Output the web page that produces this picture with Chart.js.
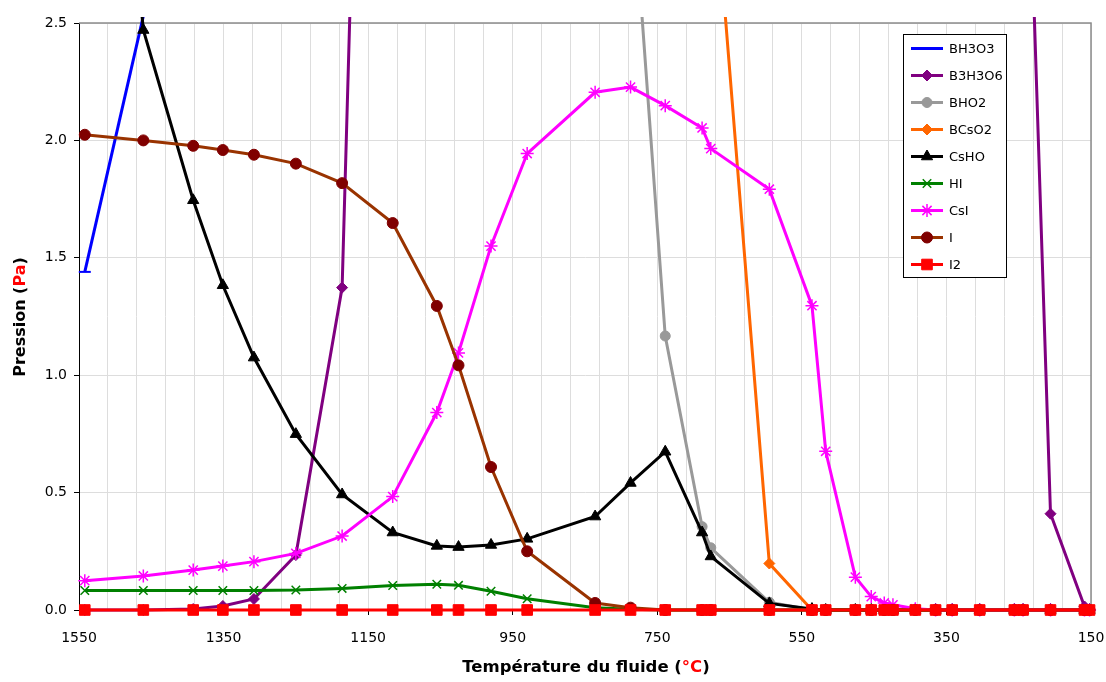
<!DOCTYPE html>
<html>
<head>
<meta charset="utf-8">
<script src="https://cdn.jsdelivr.net/npm/chart.js@4.4.0/dist/chart.umd.min.js"></script>
<style>
  html, body { margin: 0; padding: 0; background: #fff; }
  #wrap { width: 1106px; height: 682px; }
</style>
</head>
<body>
<div id="wrap"><canvas id="chart" width="1106" height="682"></canvas></div>
<script>
// Temperatures of the fluid (°C), shared by every series
const temperatures = [1542, 1461, 1392, 1351, 1308, 1250, 1186, 1116, 1055, 1025, 980, 930, 836, 787, 739, 688, 676,
  595, 536, 517, 476, 454, 436, 424, 393, 365, 342, 304, 256, 244, 206, 159, 152];

// Pressure values (Pa), null = not plotted
const bh3o3 = [1.44, 2.53, null, null, null, null, null, null, null, null, null, null, null, null, null, null, null,
  null, null, null, null, null, null, null, null, null, null, null, null, null, null, null, null];
const b3h3o6 = [0, 0, 0.004, 0.017, 0.047, 0.234, 1.373, 9.0, null, null, null, null, null, null, null, null, null,
  null, null, null, null, null, null, null, null, null, null, null, null, 4.0, 0.41, 0.015, 0];
const bho2 = [null, null, null, null, null, null, null, null, null, null, null, null, null, 3.2, 1.167, 0.355, 0.265,
  0.033, 0, 0, 0, 0, 0, 0, 0, 0, 0, 0, 0, 0, 0, 0, 0];
const bcso2 = [null, null, null, null, null, null, null, null, null, null, null, null, null, null, null, null, 3.3,
  0.198, 0, 0, 0, 0, 0, 0, 0, 0, 0, 0, 0, 0, 0, 0, 0];
const csho = [5.2, 2.47, 1.745, 1.383, 1.075, 0.749, 0.492, 0.33, 0.273, 0.268, 0.277, 0.303, 0.398, 0.541, 0.674, 0.33, 0.228,
  0.028, 0.004, 0, 0, 0, 0, 0, 0, 0, 0, 0, 0, 0, 0, 0, 0];
const hi = [0.083, 0.083, 0.083, 0.083, 0.083, 0.085, 0.092, 0.104, 0.11, 0.105, 0.08, 0.048, 0.01, 0.003, 0, 0, 0,
  0, 0, 0, 0, 0, 0, 0, 0, 0, 0, 0, 0, 0, 0, 0, 0];
const csi = [0.125, 0.145, 0.17, 0.187, 0.206, 0.241, 0.315, 0.483, 0.841, 1.095, 1.55, 1.944, 2.205, 2.227, 2.148, 2.053, 1.965,
  1.792, 1.296, 0.676, 0.14, 0.057, 0.03, 0.022, 0.005, 0, 0, 0, 0, 0, 0, 0, 0];
const iodine = [2.024, 2.0, 1.977, 1.959, 1.939, 1.901, 1.818, 1.648, 1.295, 1.042, 0.609, 0.25, 0.03, 0.01, 0, 0, 0,
  0, 0, 0, 0, 0, 0, 0, 0, 0, 0, 0, 0, 0, 0, 0, 0];
const i2 = [0, 0, 0, 0, 0, 0, 0, 0, 0, 0, 0, 0, 0, 0, 0, 0, 0,
  0, 0, 0, 0, 0, 0, 0, 0, 0, 0, 0, 0, 0, 0, 0, 0];

// Axis ticks
const xTickLabels = [1550, 1350, 1150, 950, 750, 550, 350, 150];
const xGridStep = 40;
const yTickLabels = [0, 0.5, 1.0, 1.5, 2.0, 2.5];

const FONT = "'DejaVu Sans', Verdana, sans-serif";

const toPoints = (values) => temperatures.map((t, i) => ({ x: t, y: values[i] }));

const series = [
  { label: "BH3O3", values: bh3o3, color: "#0000ff", marker: "#0000ff", style: "line", radius: 6, bw: 2 },
  { label: "B3H3O6", values: b3h3o6, color: "#800080", marker: "#800080", style: "rectRot", radius: 5.5, bw: 1 },
  { label: "BHO2", values: bho2, color: "#999999", marker: "#999999", style: "circle", radius: 5, bw: 1 },
  { label: "BCsO2", values: bcso2, color: "#ff6600", marker: "#ff6600", style: "rectRot", radius: 5.5, bw: 1 },
  { label: "CsHO", values: csho, color: "#000000", marker: "#000000", style: "triangle", radius: 6.5, bw: 1 },
  { label: "HI", values: hi, color: "#008000", marker: "#008000", style: "crossRot", radius: 6, bw: 1.5 },
  { label: "CsI", values: csi, color: "#ff00ff", marker: "#ff00ff", style: "star", radius: 6.5, bw: 1.5 },
  { label: "I", values: iodine, color: "#993300", marker: "#800000", style: "circle", radius: 5.5, bw: 1 },
  { label: "I2", values: i2, color: "#ff0000", marker: "#ff0000", style: "rect", radius: 7.5, bw: 1 },
];

const datasets = series.map((s, i) => ({
  label: s.label,
  data: toPoints(s.values),
  borderColor: s.color,
  backgroundColor: s.color,
  borderWidth: 3,
  pointStyle: s.style,
  pointRadius: s.radius,
  pointBorderWidth: s.bw,
  pointBackgroundColor: s.marker,
  pointBorderColor: s.marker,
  tension: 0,
  spanGaps: false,
  order: series.length - i, // later series drawn on top
  clip: { left: 12, top: 6, right: 12, bottom: 12 },
}));

// Plot area frame (top and right edges)
const frame = {
  id: "frame",
  beforeDatasetsDraw(chart) {
    const { ctx, chartArea: a } = chart;
    ctx.save();
    ctx.strokeStyle = "#8c8c8c";
    ctx.lineWidth = 1.5;
    ctx.beginPath();
    ctx.moveTo(a.left, a.top);
    ctx.lineTo(a.right, a.top);
    ctx.lineTo(a.right, a.bottom);
    ctx.stroke();
    ctx.restore();
  },
};

// Axis titles with red units
function drawParts(ctx, parts, cx, cy) {
  const total = parts.reduce((w, p) => w + ctx.measureText(p[0]).width, 0);
  let x = cx - total / 2;
  parts.forEach(([text, color]) => {
    ctx.fillStyle = color;
    ctx.fillText(text, x, cy);
    x += ctx.measureText(text).width;
  });
}

const axisTitles = {
  id: "axisTitles",
  afterDraw(chart) {
    const { ctx } = chart;
    ctx.save();
    ctx.font = "bold 16.5px " + FONT;
    ctx.textBaseline = "middle";
    ctx.textAlign = "left";
    drawParts(ctx, [["Température du fluide (", "#000"], ["°C", "#ff0000"], [")", "#000"]], 586, 668);
    ctx.font = "bold 16px " + FONT;
    ctx.translate(21, 317);
    ctx.rotate(-Math.PI / 2);
    drawParts(ctx, [["Pression (", "#000"], ["Pa", "#ff0000"], [")", "#000"]], 0, 0);
    ctx.restore();
  },
};

// Legend box inside the plot area
const legendBox = {
  id: "legendBox",
  afterDraw(chart) {
    const { ctx } = chart;
    const left = 903.5, top = 34.5, width = 103, height = 243, rowH = 27;
    ctx.save();
    ctx.fillStyle = "#fff";
    ctx.fillRect(left, top, width, height);
    ctx.strokeStyle = "#000";
    ctx.lineWidth = 1;
    ctx.strokeRect(left, top, width, height);
    ctx.font = "13px " + FONT;
    ctx.textBaseline = "middle";
    series.forEach((s, i) => {
      const y = 48.5 + i * rowH;
      ctx.strokeStyle = s.color;
      ctx.lineWidth = 3;
      ctx.beginPath();
      ctx.moveTo(911, y);
      ctx.lineTo(943, y);
      ctx.stroke();
      ctx.fillStyle = s.marker;
      ctx.strokeStyle = s.marker;
      ctx.lineWidth = s.bw;
      Chart.helpers.drawPoint(ctx, { pointStyle: s.style, radius: s.radius, borderWidth: s.bw, rotation: 0 }, 927, y);
      ctx.fillStyle = "#000";
      ctx.fillText(s.label, 949, y + 1);
    });
    ctx.restore();
  },
};

new Chart(document.getElementById("chart"), {
  type: "line",
  data: { datasets },
  options: {
    responsive: false,
    animation: false,
    layout: { padding: { top: 23, right: 15, left: 0, bottom: 0 } },
    plugins: { legend: { display: false }, tooltip: { enabled: false } },
    scales: {
      x: {
        type: "linear",
        reverse: true,
        min: 150,
        max: 1550,
        afterBuildTicks: (scale) => {
          const ticks = [];
          for (let v = 1550; v >= 150; v -= xGridStep) ticks.push({ value: v });
          scale.ticks = ticks;
        },
        afterFit: (scale) => {
          scale.height = 72;
          scale.paddingLeft = 0;
          scale.paddingRight = 0;
        },
        ticks: {
          autoSkip: false,
          maxRotation: 0,
          padding: 15,
          color: "#000",
          font: { family: FONT, size: 14 },
          callback: (v) => (xTickLabels.includes(v) ? String(v) : ""),
        },
        grid: {
          color: "#dddddd",
          lineWidth: 1,
          tickLength: 5,
          tickColor: (ctx) => (ctx.tick && xTickLabels.includes(ctx.tick.value) ? "#000" : "rgba(0,0,0,0)"),
        },
        border: { color: "#000", width: 1 },
      },
      y: {
        min: 0,
        max: 2.5,
        afterBuildTicks: (scale) => { scale.ticks = yTickLabels.map((v) => ({ value: v })); },
        afterFit: (scale) => { scale.width = 79; },
        ticks: {
          padding: 7,
          color: "#000",
          font: { family: FONT, size: 14 },
          callback: (v) => Number(v).toFixed(1),
        },
        grid: { color: "#dddddd", lineWidth: 1, tickLength: 5, tickColor: "#000" },
        border: { color: "#000", width: 1 },
      },
    },
  },
  plugins: [frame, axisTitles, legendBox],
});
</script>
</body>
</html>
